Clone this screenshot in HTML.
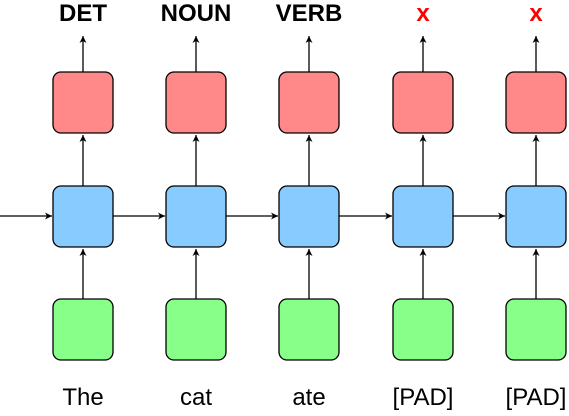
<!DOCTYPE html>
<html><head><style>body{margin:0;background:#fff}</style></head><body>
<svg width="569" height="411" xmlns="http://www.w3.org/2000/svg" font-family="Liberation Sans, sans-serif">
<defs><marker id="a" markerWidth="8" markerHeight="8" refX="7" refY="4" orient="auto" markerUnits="userSpaceOnUse"><path d="M0,0.5 L7,4 L0,7.5 L2,4 Z" fill="#000"/></marker></defs>
<g stroke="#000" stroke-width="1.3" fill="none">
<line x1="0" y1="216" x2="52" y2="216" marker-end="url(#a)"/>
<line x1="113" y1="216" x2="165" y2="216" marker-end="url(#a)"/>
<line x1="226" y1="216" x2="278" y2="216" marker-end="url(#a)"/>
<line x1="339" y1="216" x2="392" y2="216" marker-end="url(#a)"/>
<line x1="453" y1="216" x2="505" y2="216" marker-end="url(#a)"/>
</g>
<g stroke="#000" stroke-width="1.3">
<g transform="translate(0,0)">
<line x1="83" y1="72" x2="83" y2="36" marker-end="url(#a)"/><line x1="83" y1="186" x2="83" y2="135" marker-end="url(#a)"/><line x1="83" y1="299" x2="83" y2="249" marker-end="url(#a)"/>
<rect x="53" y="72" width="60" height="61" rx="8" fill="#ff8888"/><rect x="53" y="186" width="60" height="61" rx="8" fill="#88ccff"/><rect x="53" y="299" width="60" height="61" rx="8" fill="#88ff88"/></g>
<g transform="translate(113,0)">
<line x1="83" y1="72" x2="83" y2="36" marker-end="url(#a)"/><line x1="83" y1="186" x2="83" y2="135" marker-end="url(#a)"/><line x1="83" y1="299" x2="83" y2="249" marker-end="url(#a)"/>
<rect x="53" y="72" width="60" height="61" rx="8" fill="#ff8888"/><rect x="53" y="186" width="60" height="61" rx="8" fill="#88ccff"/><rect x="53" y="299" width="60" height="61" rx="8" fill="#88ff88"/></g>
<g transform="translate(226,0)">
<line x1="83" y1="72" x2="83" y2="36" marker-end="url(#a)"/><line x1="83" y1="186" x2="83" y2="135" marker-end="url(#a)"/><line x1="83" y1="299" x2="83" y2="249" marker-end="url(#a)"/>
<rect x="53" y="72" width="60" height="61" rx="8" fill="#ff8888"/><rect x="53" y="186" width="60" height="61" rx="8" fill="#88ccff"/><rect x="53" y="299" width="60" height="61" rx="8" fill="#88ff88"/></g>
<g transform="translate(340,0)">
<line x1="83" y1="72" x2="83" y2="36" marker-end="url(#a)"/><line x1="83" y1="186" x2="83" y2="135" marker-end="url(#a)"/><line x1="83" y1="299" x2="83" y2="249" marker-end="url(#a)"/>
<rect x="53" y="72" width="60" height="61" rx="8" fill="#ff8888"/><rect x="53" y="186" width="60" height="61" rx="8" fill="#88ccff"/><rect x="53" y="299" width="60" height="61" rx="8" fill="#88ff88"/></g>
<g transform="translate(453,0)">
<line x1="83" y1="72" x2="83" y2="36" marker-end="url(#a)"/><line x1="83" y1="186" x2="83" y2="135" marker-end="url(#a)"/><line x1="83" y1="299" x2="83" y2="249" marker-end="url(#a)"/>
<rect x="53" y="72" width="60" height="61" rx="8" fill="#ff8888"/><rect x="53" y="186" width="60" height="61" rx="8" fill="#88ccff"/><rect x="53" y="299" width="60" height="61" rx="8" fill="#88ff88"/></g>
</g>
<g font-size="24" font-weight="bold" text-anchor="middle">
<text x="83" y="21">DET</text><text x="196" y="21">NOUN</text><text x="309" y="21">VERB</text>
<text x="423" y="21" fill="#ff0000">x</text><text x="536" y="21" fill="#ff0000">x</text>
</g>
<g font-size="24" text-anchor="middle">
<text x="83" y="405">The</text><text x="196" y="405">cat</text><text x="309" y="405">ate</text><text x="423" y="405">[PAD]</text><text x="536" y="405">[PAD]</text>
</g>
</svg>
</body></html>
